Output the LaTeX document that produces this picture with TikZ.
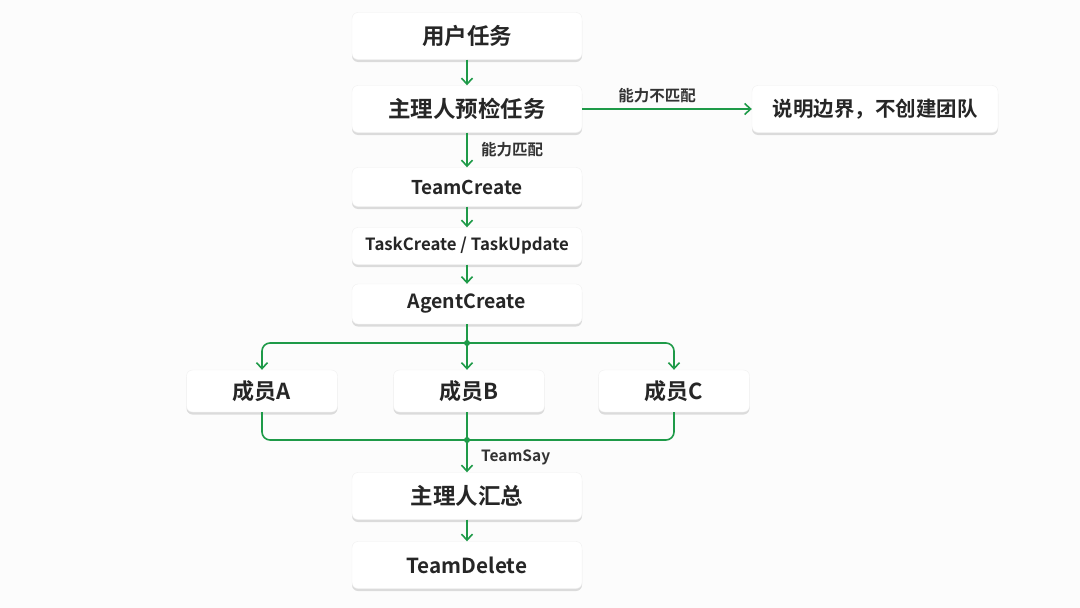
\documentclass[tikz,border=0pt]{standalone}
\usepackage{fontspec}
\setmainfont{Noto Sans CJK SC}[BoldFont={* Bold}]
\usetikzlibrary{shadows,arrows.meta}
\definecolor{flowgreen}{HTML}{1E9A48}
\definecolor{bgc}{HTML}{FCFCFC}
\begin{document}
\begin{tikzpicture}[x=1pt,y=-1pt,
  box/.style={draw=black!6,line width=0.4pt,fill=white,rounded corners=6pt,
    drop shadow={opacity=0.13,shadow xshift=0pt,shadow yshift=-2.5pt,fill=black},
    inner sep=0pt, anchor=center},
  big/.style={box,minimum width=230,minimum height=47,font=\bfseries\fontsize{22.5}{26}\selectfont\color{black!85}},
  mid/.style={box,minimum width=230,minimum height=39,font=\bfseries\fontsize{19}{22}\selectfont\color{black!85}},
  small/.style={box,minimum width=230,minimum height=37,font=\bfseries\fontsize{16.8}{19}\selectfont\color{black!85}},
  mem/.style={box,minimum width=151,minimum height=42,font=\bfseries\fontsize{22}{25}\selectfont\color{black!85}},
  conn/.style={draw=flowgreen,line width=1.6pt,-{Straight Barb[length=6pt,width=11pt,line width=1.6pt]}},
  line/.style={draw=flowgreen,line width=1.6pt,rounded corners=8pt},
  lab/.style={font=\bfseries\fontsize{15.5}{18}\selectfont\color{black!80}},
  dot/.style={circle,fill=flowgreen,inner sep=0pt,minimum size=6pt}]
\fill[bgc] (0,0) rectangle (1080,608);
\useasboundingbox (0,0) rectangle (1080,608);
\node[big] (user) at (467,36) {用户任务};
\node[big] (pre) at (467,109) {主理人预检任务};
\node[big,minimum width=246,font=\bfseries\fontsize{20.5}{24}\selectfont\color{black!85}] (bound) at (875,109) {说明边界，不创建团队};
\node[mid] (tc) at (467,187) {TeamCreate};
\node[small] (task) at (467,246) {TaskCreate / TaskUpdate};
\node[mid,minimum height=40,font=\bfseries\fontsize{19.5}{22}\selectfont\color{black!85}] (ac) at (467,304) {AgentCreate};
\node[mem] (ma) at (262,391) {成员A};
\node[mem] (mb) at (469,391) {成员B};
\node[mem] (mc) at (674,391) {成员C};
\node[big] (sum) at (467,496) {主理人汇总};
\node[big,font=\bfseries\fontsize{20.7}{24}\selectfont\color{black!85}] (del) at (467,565) {TeamDelete};
\coordinate (top) at (467,343);
\coordinate (bot) at (467,440);
\node[dot] (topdot) at (top) {};
\node[dot] (botdot) at (bot) {};
\draw[conn] (user) -- (pre);
\draw[conn] (pre) -- node[lab,above,yshift=2pt,xshift=-10pt] {能力不匹配} (bound);
\draw[conn] (pre) -- node[lab,right,xshift=10pt] {能力匹配} (tc);
\draw[conn] (tc) -- (task);
\draw[conn] (task) -- (ac);
\draw[line] (ac.south) -- (top);
\draw[line,-{Straight Barb[length=6pt,width=11pt,line width=1.6pt]}] (top) -| (ma.north);
\draw[line,-{Straight Barb[length=6pt,width=11pt,line width=1.6pt]}] (top) -| (mc.north);
\draw[conn] (top) -- (top |- mb.north);
\draw[line] (ma.south) |- (bot);
\draw[line] (mc.south) |- (bot);
\draw[line] (mb.south -| bot) -- (bot);
\draw[conn] (bot) -- node[lab,right,xshift=10pt,yshift=-1pt] {TeamSay} (sum);
\draw[conn] (sum) -- (del);
\end{tikzpicture}
\end{document}
